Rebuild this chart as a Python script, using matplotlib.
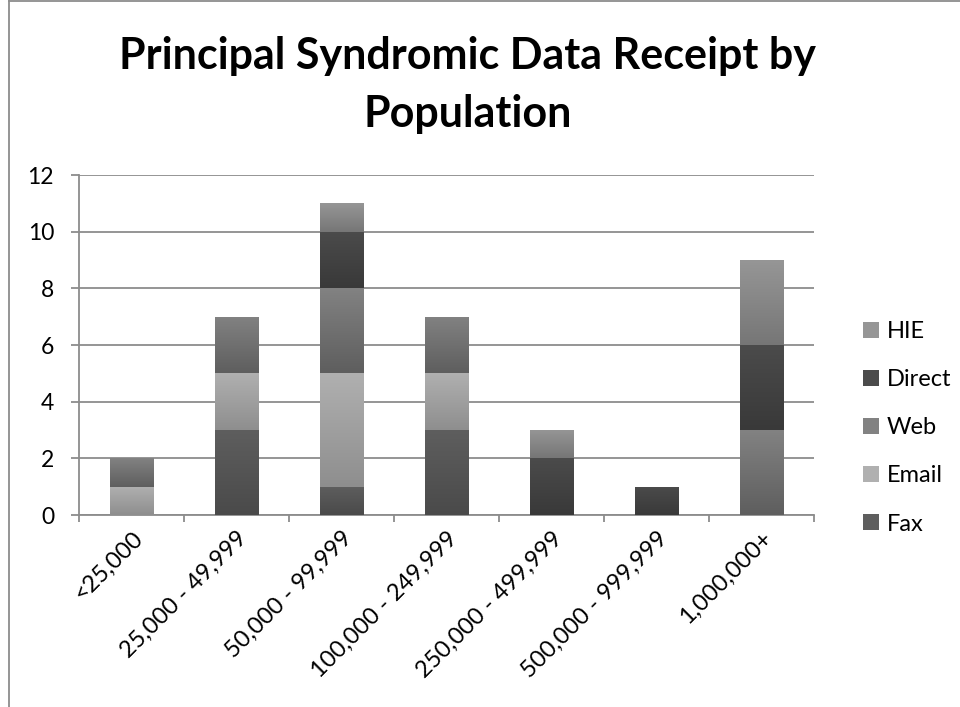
import numpy as np
import matplotlib
matplotlib.use("Agg")
import matplotlib.pyplot as plt
from matplotlib.colors import LinearSegmentedColormap
from matplotlib.patches import Patch

plt.rcParams['font.family'] = ['Lato', 'DejaVu Sans']

# data
categories = ['<25,000', '25,000 - 49,999', '50,000 - 99,999', '100,000 - 249,999',
              '250,000 - 499,999', '500,000 - 999,999', '1,000,000+']
fax = [0, 3, 1, 3, 0, 0, 0]
email = [1, 2, 4, 2, 0, 0, 0]
web = [1, 2, 3, 2, 0, 0, 3]
direct = [0, 0, 2, 0, 2, 1, 3]
hie = [0, 0, 1, 0, 1, 0, 3]

series = [('Fax', fax, '#5e5e5e', '#4a4a4a'),
          ('Email', email, '#b0b0b0', '#8e8e8e'),
          ('Web', web, '#828282', '#5e5e5e'),
          ('Direct', direct, '#4b4b4b', '#393939'),
          ('HIE', hie, '#969696', '#767676')]

fig = plt.figure(figsize=(9.6, 7.07), dpi=100)
ax = fig.add_axes([79 / 960, 1 - 515 / 707, (814 - 79) / 960, (515 - 175) / 707])

x = np.arange(len(categories))
bottom = np.zeros(len(categories))
gradient = np.linspace(0, 1, 256).reshape(-1, 1)
handles = []
for name, vals, top_c, bot_c in series:
    bars = ax.bar(x, vals, width=0.41, bottom=bottom, color=top_c, zorder=2, linewidth=0)
    cmap = LinearSegmentedColormap.from_list(name, [bot_c, top_c])
    for b in bars:
        if b.get_height() == 0:
            continue
        x0, y0 = b.get_x(), b.get_y()
        im = ax.imshow(gradient, cmap=cmap, aspect='auto', origin='lower',
                       extent=[x0, x0 + b.get_width(), y0, y0 + b.get_height()], zorder=3)
        im.set_clip_path(b)
    bottom += np.array(vals)
    handles.append(Patch(facecolor=top_c, edgecolor='none', label=name))

ax.set_xlim(-0.5, len(categories) - 0.5)
ax.set_ylim(0, 12)
ax.set_yticks(range(0, 13, 2))
ax.yaxis.grid(True, color='#8c8c8c', linewidth=1.3, zorder=1)
ax.set_axisbelow(True)
for s in ['top', 'right']:
    ax.spines[s].set_visible(False)
for s in ['left', 'bottom']:
    ax.spines[s].set_color('#8c8c8c')
    ax.spines[s].set_linewidth(1.3)

ax.set_xticks(x)
ax.set_xticklabels(categories, rotation=45, ha='right', rotation_mode='anchor', fontsize=17)
ax.tick_params(axis='x', length=0, pad=9)
ax.set_xticks(np.arange(len(categories) + 1) - 0.5, minor=True)
ax.tick_params(axis='x', which='minor', length=5, width=1.3, color='#8c8c8c')
ax.tick_params(axis='y', length=6, width=1.3, color='#8c8c8c', labelsize=16.5, pad=12)

fig.text(0.487, 0.880, 'Principal Syndromic Data Receipt by\nPopulation', ha='center', va='center',
         fontsize=31, fontweight='bold', linespacing=1.55)

fig.legend(handles=handles[::-1], loc='center left', bbox_to_anchor=(0.877, 0.395),
           frameon=False, fontsize=17, handlelength=0.66, handleheight=0.66,
           handletextpad=0.35, labelspacing=1.15)

# outer chart border
fig.add_artist(plt.Line2D([9 / 960, 9 / 960], [0, 0.999], transform=fig.transFigure,
                          color='#8c8c8c', linewidth=1.3))
fig.add_artist(plt.Line2D([9 / 960, 1], [0.999, 0.999], transform=fig.transFigure,
                          color='#8c8c8c', linewidth=1.3))

fig.savefig('out.png', dpi=100, facecolor='white')
